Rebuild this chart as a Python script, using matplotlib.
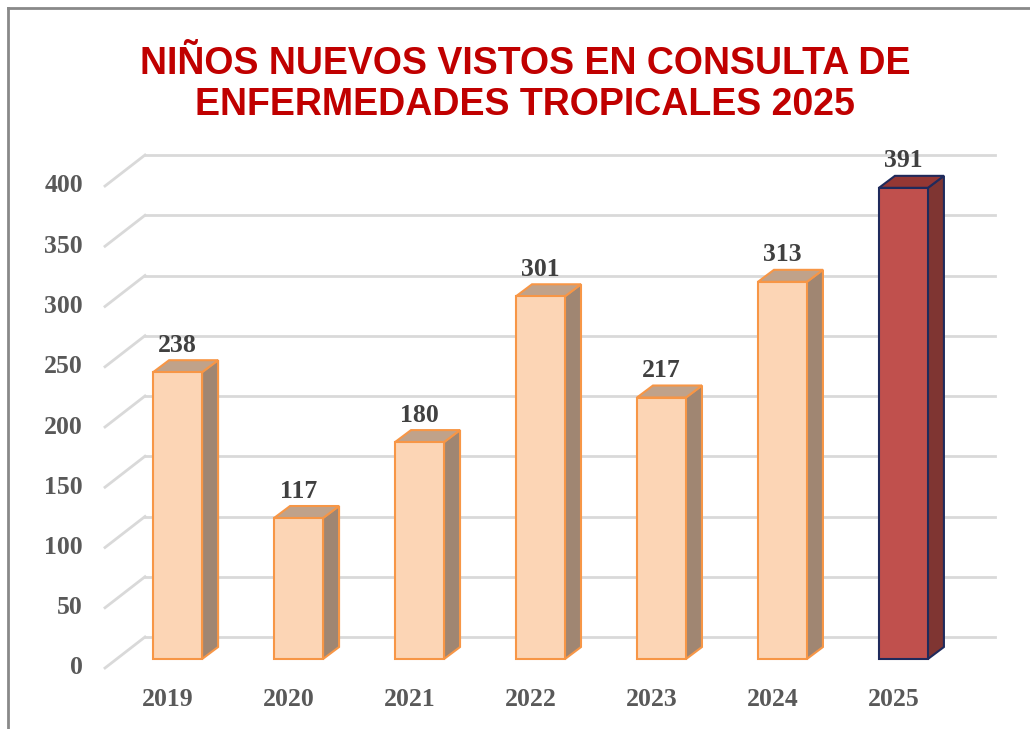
import numpy as np
import matplotlib
matplotlib.use("Agg")
import matplotlib.pyplot as plt
from matplotlib.patches import Polygon
from matplotlib.lines import Line2D

# ---------------- data ----------------
years = ["2019", "2020", "2021", "2022", "2023", "2024", "2025"]
values = [238, 117, 180, 301, 217, 313, 391]
yticks = [0, 50, 100, 150, 200, 250, 300, 350, 400]
title_1 = "NIÑOS NUEVOS VISTOS EN CONSULTA DE"
title_2 = "ENFERMEDADES TROPICALES 2025"

# ---------------- style ----------------
face = "#FCD5B5"
edge = "#F79646"
side = "#A08672"
top = "#C0A28A"
hl_face = "#C0504D"
hl_side = "#7F3532"
hl_top = "#943734"
hl_edge = "#1F2A5C"
grid_c = "#D9D9D9"
tick_font = dict(family="Liberation Serif", weight="bold", size=18.5)

W, H = 1030, 729
fig = plt.figure(figsize=(W / 100, H / 100), dpi=100)
ax = fig.add_axes([105 / W, 70 / H, 871 / W, 482 / H])
ax.set_xlim(-0.6, 6.6)
ax.set_ylim(0, 400)
ax.axis("off")

# pixel -> data unit helpers
px_x = 871 / 7.2
px_y = 482 / 400.0
def dx(p): return p / px_x
def dy(p): return p / px_y

x = np.arange(len(years))
w = 49 / px_x

# gridlines (floor diagonal + back wall)
x0 = -0.6
x_back0 = x0 + dx(40)
x_back1 = x0 + dx(890)
for v in yticks:
    ax.add_line(Line2D([x0, x_back0], [v - dy(9), v + dy(22)], color=grid_c, lw=2, clip_on=False, zorder=1))
    ax.add_line(Line2D([x_back0, x_back1], [v + dy(22), v + dy(22)], color=grid_c, lw=2, clip_on=False, zorder=1))
    ax.text(x0 - dx(22), v - dy(9), str(v), ha="right", va="center", color="#595959", **tick_font)

# bars with fake 3d depth
ddx, ddy = dx(16), dy(12)
for i, v in enumerate(values):
    hl = i == len(values) - 1
    fc, sc, tc, ec = (hl_face, hl_side, hl_top, hl_edge) if hl else (face, side, top, edge)
    l, r = x[i] - w / 2, x[i] + w / 2
    ax.add_patch(Polygon([(r, 0), (r + ddx, ddy), (r + ddx, v + ddy), (r, v)],
                         facecolor=sc, edgecolor=ec, lw=1.5, clip_on=False, zorder=3))
    ax.add_patch(Polygon([(l, v), (r, v), (r + ddx, v + ddy), (l + ddx, v + ddy)],
                         facecolor=tc, edgecolor=ec, lw=1.5, clip_on=False, zorder=3))
    ax.bar(x[i], v, width=w, color=fc, edgecolor=ec, lw=1.5, zorder=4, clip_on=False)
    ax.text(x[i], v + dy(27), str(v), ha="center", va="center", color="#404040", zorder=5, **tick_font)
    ax.text(x[i] - dx(10), -dy(40), years[i], ha="center", va="center", color="#595959", **tick_font)

# titles
fig.text(525 / W, 1 - 64 / H, title_1, ha="center", va="center", color="#C00000",
         family="Liberation Sans", weight="bold", size=27)
fig.text(525 / W, 1 - 105 / H, title_2, ha="center", va="center", color="#C00000",
         family="Liberation Sans", weight="bold", size=27)

# chart border (top and left)
fig.add_artist(Line2D([8 / W, 1], [1 - 8 / H, 1 - 8 / H], color="#898989", lw=2, transform=fig.transFigure))
fig.add_artist(Line2D([8 / W, 8 / W], [0, 1 - 8 / H], color="#898989", lw=2, transform=fig.transFigure))

fig.savefig("out.png", dpi=100)
